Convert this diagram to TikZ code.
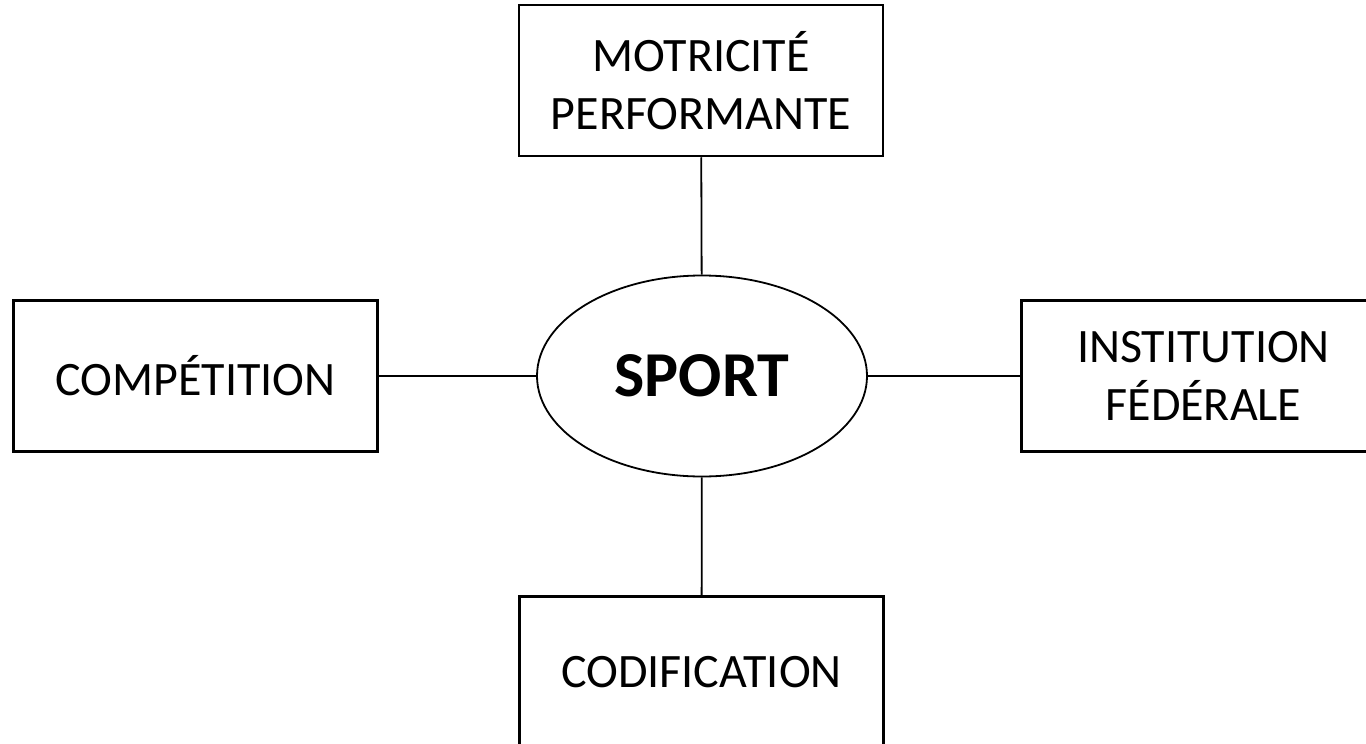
\documentclass[tikz,border=0pt]{standalone}
\usepackage{fontspec}
\setmainfont{Carlito}
\usetikzlibrary{shapes.geometric}
\usetikzlibrary{positioning}

\begin{document}
\begin{tikzpicture}[x=1pt, y=-1pt,
	boite/.style={draw, line width=2.5pt, minimum width=364pt, minimum height=151pt, inner sep=0pt, align=center, font=\fontsize{48pt}{58pt}\selectfont},
	lien/.style={line width=1.8pt}]
				\useasboundingbox (0,0) rectangle (1366,744);
				% central ellipse
				\node[draw, ellipse, line width=1.8pt, minimum width=330pt, minimum height=201pt, inner sep=0pt, font=\fontsize{64pt}{72pt}\selectfont\bfseries] (sport) at (702,376) {SPORT};
				% the four boxes
				\node[boite] (motricite) at (701,80.5) {MOTRICITÉ\\PERFORMANTE};
				\node[boite] (competition) at (195.5,376) {COMPÉTITION};
				\node[boite] (institution) at (1203.5,376) {INSTITUTION\\FÉDÉRALE};
				\node[boite] (codification) at (701.5,672) {CODIFICATION};
				% links
				\draw[lien] (motricite) -- (sport);
				\draw[lien] (competition) -- (sport);
				\draw[lien] (sport) -- (institution);
				\draw[lien] (sport) -- (codification);
			\end{tikzpicture}
\end{document}
